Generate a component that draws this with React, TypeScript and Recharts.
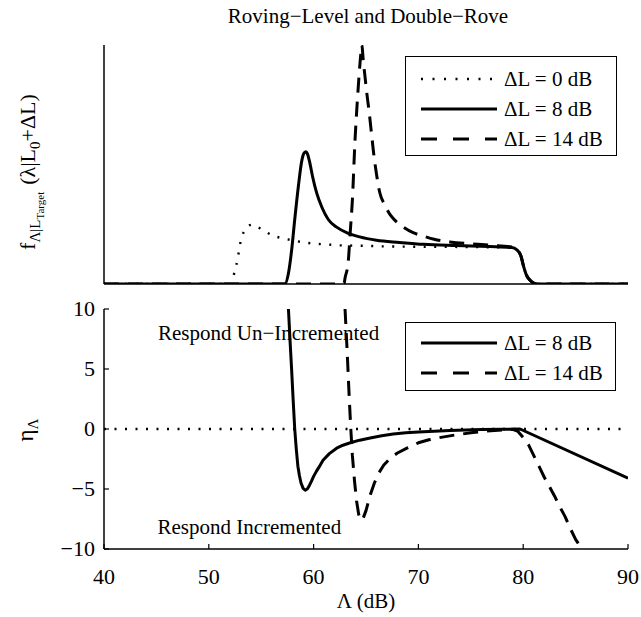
import React from 'react';
import { LineChart, Line, XAxis, YAxis, Legend, ReferenceDot } from 'recharts';

const SERIF = '"Liberation Serif", "Times New Roman", Times, serif';

// Λ axis (dB)
const lambdaDomain: [number, number] = [40, 90];
const lambdaTicks = [40, 50, 60, 70, 80, 90];
const etaTicks = [-10, -5, 0, 5, 10];

// Legend labels
const seriesNames = ['ΔL = 0 dB', 'ΔL = 8 dB', 'ΔL = 14 dB'];

// Conditional density f(λ | L0 + ΔL), ΔL = 0 dB
const densityLambda0 = [40, 52.1, 52.3, 52.6, 52.8, 53.0, 53.35, 53.7, 54.1, 54.6, 55.1, 56.1, 57.2, 58.3, 59.4, 60.3, 61.4, 62.5, 64.7, 67.0, 70.0, 74.0, 78.0, 79.2, 79.5, 79.8, 80.0, 80.3, 80.8, 81.3, 90];
const densityValue0 = [0, 0, 0.027, 0.073, 0.118, 0.17, 0.22, 0.24, 0.248, 0.24, 0.227, 0.203, 0.19, 0.18, 0.172, 0.168, 0.165, 0.162, 0.16, 0.157, 0.156, 0.155, 0.153, 0.15, 0.138, 0.113, 0.08, 0.038, 0.01, 0, 0];

// Conditional density, ΔL = 8 dB
const densityLambda8 = [40, 57.25, 57.6, 57.9, 58.2, 58.55, 58.85, 59.05, 59.25, 59.45, 59.65, 59.9, 60.3, 60.8, 61.4, 62.2, 63.2, 64.4, 66.0, 68.2, 70.5, 73.6, 76.8, 78.9, 79.4, 79.8, 80.0, 80.3, 80.8, 81.3, 90];
const densityValue8 = [0, 0, 0.045, 0.14, 0.27, 0.41, 0.51, 0.545, 0.553, 0.54, 0.505, 0.45, 0.38, 0.32, 0.27, 0.238, 0.214, 0.197, 0.183, 0.174, 0.166, 0.161, 0.157, 0.153, 0.143, 0.115, 0.08, 0.038, 0.01, 0, 0];

// Conditional density, ΔL = 14 dB
const densityLambda14 = [40, 62.9, 63.0, 63.3, 63.5, 63.7, 63.95, 64.15, 64.35, 64.5, 64.6, 64.75, 64.9, 65.1, 65.3, 65.5, 65.75, 66.0, 66.3, 66.8, 67.3, 67.8, 68.5, 69.5, 70.5, 71.5, 73.0, 75.0, 77.0, 78.9, 79.4, 79.8, 80.0, 80.3, 80.8, 81.3, 90];
const densityValue14 = [0, 0, 0.025, 0.09, 0.22, 0.35, 0.6, 0.75, 0.88, 0.96, 1.0, 0.93, 0.87, 0.79, 0.72, 0.64, 0.54, 0.46, 0.385, 0.33, 0.29, 0.265, 0.24, 0.215, 0.2, 0.187, 0.176, 0.168, 0.162, 0.155, 0.143, 0.115, 0.08, 0.038, 0.01, 0, 0];

// Decision statistic η_Λ, ΔL = 0 dB
const etaLambda0 = [40, 90];
const etaValue0 = [0, 0];

// Decision statistic η_Λ, ΔL = 8 dB
const etaLambda8 = [57.6, 57.75, 57.9, 58.05, 58.2, 58.35, 58.5, 58.65, 58.8, 59.0, 59.2, 59.4, 59.6, 59.8, 60.0, 60.25, 60.5, 60.9, 61.5, 62.2, 62.8, 63.5, 64.4, 65.4, 66.5, 67.6, 68.8, 70.0, 71.5, 73.0, 74.5, 76.0, 78.0, 79.7, 90];
const etaValue8 = [10, 7.4, 5, 2.4, 0, -1.7, -3.1, -3.9, -4.5, -4.95, -5.1, -5.0, -4.7, -4.35, -3.95, -3.55, -3.2, -2.6, -2.05, -1.6, -1.35, -1.15, -0.93, -0.75, -0.57, -0.42, -0.32, -0.25, -0.18, -0.12, -0.08, -0.05, -0.02, 0, -4.1];

// Decision statistic η_Λ, ΔL = 14 dB
const etaLambda14 = [63.0, 63.2, 63.4, 63.55, 63.7, 63.9, 64.1, 64.3, 64.5, 64.7, 65.0, 65.4, 65.8, 66.2, 66.7, 67.3, 68.0, 69.0, 70.0, 71.0, 72.0, 73.5, 75.0, 76.5, 78.0, 79.0, 79.5, 80.0, 80.5, 81.0, 81.5, 82.0, 82.5, 83.0, 83.5, 84.0, 84.5, 85.0, 85.6];
const etaValue14 = [10, 6.5, 2.6, 0, -2.2, -4.3, -6.0, -7.1, -7.6, -7.5, -6.8, -5.5, -4.5, -3.7, -3.0, -2.45, -2.0, -1.55, -1.15, -0.9, -0.72, -0.5, -0.32, -0.18, -0.08, -0.03, -0.2, -0.7, -1.3, -2.2, -3.1, -4.0, -4.8, -5.6, -6.5, -7.3, -8.3, -9.2, -10];

// Region annotations in the η panel
const regionLabels = ['Respond Un−Incremented', 'Respond Incremented'];
const regionLambda = [45.15, 45.1];
const regionEta = [8, -8.1];

const toPoints = (xs: number[], ys: number[]) => xs.map((x, i) => ({ x, y: ys[i] }));

const lineStyles = [
  { strokeWidth: 2.4, strokeDasharray: '2 8.5', legendDash: '2 9.5' },
  { strokeWidth: 3, strokeDasharray: undefined, legendDash: undefined },
  { strokeWidth: 3, strokeDasharray: '15 9', legendDash: '16 16' },
];

const fmtTick = (v: number) => (v < 0 ? `−${-v}` : `${v}`);

const axisStroke = { stroke: '#000', strokeWidth: 1.5 };

// Serif tick labels, drawn at the positions the axis hands over
const XTick = (props: any) => {
  const { x, y, payload } = props;
  return (
    <text x={x} y={y} dy={16} textAnchor="middle" fontFamily={SERIF} fontSize={22} fill="#000">
      {fmtTick(payload.value)}
    </text>
  );
};
const YTick = (props: any) => {
  const { x, y, payload } = props;
  return (
    <text x={x} y={y} dy={7} textAnchor="end" fontFamily={SERIF} fontSize={22} fill="#000">
      {fmtTick(payload.value)}
    </text>
  );
};

type LegendEntry = { name: string; strokeWidth: number; legendDash?: string };

function LegendBox({ entries, width, height, padTop }: { entries: LegendEntry[]; width: number; height: number; padTop: number }) {
  return (
    <div
      style={{
        width,
        height,
        boxSizing: 'border-box',
        border: '1.5px solid #000',
        background: '#fff',
        paddingTop: padTop,
      }}
    >
      {entries.map((e) => (
        <div key={e.name} style={{ display: 'flex', alignItems: 'center', height: 30 }}>
          <svg width={76} height={10} style={{ display: 'block', marginLeft: 15, marginRight: 7 }}>
            <line x1={0} y1={5} x2={76} y2={5} stroke="#000" strokeWidth={e.strokeWidth} strokeDasharray={e.legendDash} />
          </svg>
          <span style={{ fontFamily: SERIF, fontSize: 21, lineHeight: '30px', color: '#000', whiteSpace: 'nowrap' }}>{e.name}</span>
        </div>
      ))}
    </div>
  );
}

const topEntries: LegendEntry[] = seriesNames.map((name, i) => ({ name, strokeWidth: lineStyles[i].strokeWidth, legendDash: lineStyles[i].legendDash }));
const bottomEntries: LegendEntry[] = topEntries.slice(1);

const densitySeries = [
  toPoints(densityLambda0, densityValue0),
  toPoints(densityLambda8, densityValue8),
  toPoints(densityLambda14, densityValue14),
];
const etaSeries = [
  toPoints(etaLambda0, etaValue0),
  toPoints(etaLambda8, etaValue8),
  toPoints(etaLambda14, etaValue14),
];

export default function App() {
  return (
    <div style={{ position: 'absolute', left: 0, top: 0, width: 641, height: 617, background: '#fff', fontFamily: SERIF }}>
      <div style={{ position: 'absolute', left: 0, top: 0 }}>
        <LineChart width={641} height={300} margin={{ top: 45, right: 13, bottom: 15, left: 103 }} style={{ fontFamily: SERIF }}>
          <XAxis
            type="number"
            dataKey="x"
            domain={lambdaDomain}
            allowDataOverflow
            ticks={lambdaTicks}
            tick={false}
            tickLine={false}
            height={1}
            axisLine={axisStroke}
          />
          <YAxis
            type="number"
            dataKey="y"
            domain={[0, 1]}
            allowDataOverflow
            width={1}
            tick={false}
            tickLine={false}
            axisLine={axisStroke}
          />
          {densitySeries.map((pts, i) => (
            <Line
              key={seriesNames[i]}
              data={pts}
              dataKey="y"
              name={seriesNames[i]}
              type="monotone"
              stroke="#000"
              strokeWidth={lineStyles[i].strokeWidth}
              strokeDasharray={lineStyles[i].strokeDasharray}
              dot={false}
              activeDot={false}
              isAnimationActive={false}
            />
          ))}
          <Legend
            layout="vertical"
            align="center"
            verticalAlign="middle"
            wrapperStyle={{ left: 405, top: 56, width: 212, height: 100 }}
            content={() => <LegendBox entries={topEntries} width={212} height={100} padTop={7} />}
          />
          <text x={368} y={23} textAnchor="middle" fontFamily={SERIF} fontSize={21} fill="#000">
            Roving−Level and Double−Rove
          </text>
          <text transform="rotate(-90, 35, 172)" x={35} y={172} textAnchor="middle" fontFamily={SERIF} fontSize={22} fill="#000">
            f
            <tspan fontSize={15} dy={5}>Λ|L</tspan>
            <tspan fontSize={11} dy={4}>Target</tspan>
            <tspan fontSize={22} dy={-9} dx={7}>(λ|L</tspan>
            <tspan fontSize={15} dy={5}>0</tspan>
            <tspan fontSize={22} dy={-5}>+ΔL)</tspan>
          </text>
        </LineChart>
      </div>

      <div style={{ position: 'absolute', left: 0, top: 290 }}>
        <LineChart width={641} height={327} margin={{ top: 19, right: 13, bottom: 0, left: 44 }} style={{ fontFamily: SERIF }}>
          <XAxis
            type="number"
            dataKey="x"
            domain={lambdaDomain}
            allowDataOverflow
            ticks={lambdaTicks}
            tickSize={-5}
            tickMargin={24}
            height={68}
            axisLine={axisStroke}
            tickLine={{ stroke: '#000', strokeWidth: 1.2 }}
            tick={<XTick />}
            label={{ value: 'Λ (dB)', position: 'insideBottom', offset: 9, fill: '#000', fontSize: 21, fontFamily: SERIF }}
          />
          <YAxis
            type="number"
            dataKey="y"
            domain={[-10, 10]}
            allowDataOverflow
            ticks={etaTicks}
            tickSize={-5}
            tickMargin={14}
            width={60}
            axisLine={axisStroke}
            tickLine={{ stroke: '#000', strokeWidth: 1.2 }}
            tick={<YTick />}
          />
          {etaSeries.map((pts, i) => (
            <Line
              key={seriesNames[i]}
              data={pts}
              dataKey="y"
              name={seriesNames[i]}
              type="linear"
              stroke="#000"
              strokeWidth={lineStyles[i].strokeWidth}
              strokeDasharray={lineStyles[i].strokeDasharray}
              strokeLinejoin="round"
              dot={false}
              activeDot={false}
              legendType="none"
              isAnimationActive={false}
            />
          ))}
          {regionLabels.map((txt, i) => (
            <ReferenceDot
              key={txt}
              x={regionLambda[i]}
              y={regionEta[i]}
              r={0}
              fill="none"
              stroke="none"
              label={{ value: txt, position: 'right', offset: 0, fill: '#000', fontSize: 21, fontFamily: SERIF }}
            />
          ))}
          <Legend
            layout="vertical"
            align="center"
            verticalAlign="middle"
            wrapperStyle={{ left: 405, top: 32, width: 211, height: 69 }}
            content={() => <LegendBox entries={bottomEntries} width={211} height={69} padTop={5} />}
          />
          <text transform="rotate(-90, 33, 140)" x={33} y={140} textAnchor="middle" fontFamily={SERIF} fontSize={23} fill="#000">
            η<tspan fontSize={15} dy={5}>Λ</tspan>
          </text>
        </LineChart>
      </div>
    </div>
  );
}
